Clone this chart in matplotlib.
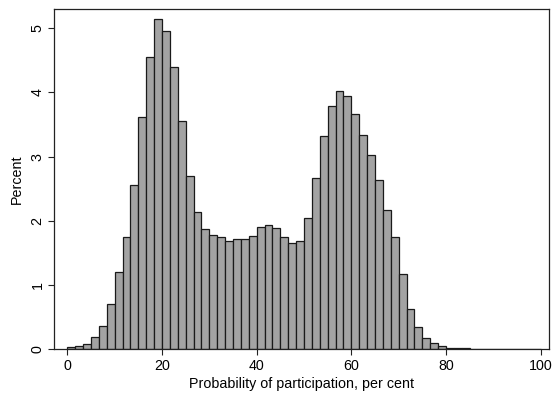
import matplotlib
matplotlib.use("Agg")
import matplotlib.pyplot as plt
import numpy as np

# Histogram: 60 bins of width 100/60 from 0 to 100, heights in percent
bin_start = 0.0
bin_end = 100.0
percent = [
    0.03, 0.04, 0.08, 0.18, 0.36, 0.70, 1.20, 1.75, 2.55, 3.61,
    4.56, 5.15, 4.96, 4.39, 3.55, 2.69, 2.14, 1.87, 1.77, 1.74,
    1.68, 1.72, 1.71, 1.76, 1.90, 1.93, 1.88, 1.74, 1.65, 1.69,
    2.05, 2.66, 3.32, 3.79, 4.03, 3.94, 3.66, 3.34, 3.02, 2.63,
    2.16, 1.74, 1.17, 0.63, 0.34, 0.17, 0.09, 0.04, 0.02, 0.01,
    0.008, 0.006, 0.006, 0.005, 0.005, 0.005, 0.004, 0.004, 0.004, 0.003,
]
x_ticks = [0, 20, 40, 60, 80, 100]
y_ticks = [0, 1, 2, 3, 4, 5]
x_label = "Probability of participation, per cent"
y_label = "Percent"

plt.rcParams['font.family'] = ['Liberation Sans', 'DejaVu Sans']

fig = plt.figure(figsize=(5.54, 3.99), dpi=100)
ax = fig.add_axes([0.098, 0.1253, 0.893, 0.852])

edges = np.linspace(bin_start, bin_end, len(percent) + 1)
width = edges[1] - edges[0]
ax.bar(edges[:-1], percent, width=width, align='edge',
       color='#a3a3a3', edgecolor='#1a1a1a', linewidth=0.9)

ax.set_xlim(-2.75, 101.75)
ax.set_ylim(0, 5.30)
ax.set_xticks(x_ticks)
ax.set_yticks(y_ticks)
ax.set_yticklabels([str(v) for v in y_ticks], rotation=90, va='center')
ax.tick_params(axis='both', labelsize=10.3, length=4.5, width=0.8,
               color='#222222', pad=2.5)
ax.set_xlabel(x_label, fontsize=10.3, labelpad=3)
ax.set_ylabel(y_label, fontsize=10.3, labelpad=5)
for s in ax.spines.values():
    s.set_linewidth(0.9)
    s.set_color('#222222')

fig.savefig("out.png", dpi=100)
